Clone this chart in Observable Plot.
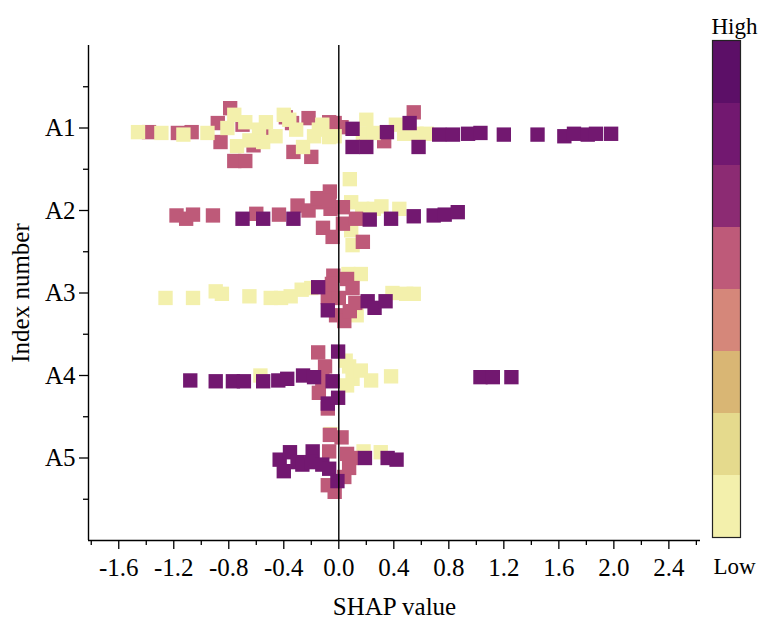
<!DOCTYPE html>
<html>
<head>
<meta charset="utf-8">
<script src="https://cdn.jsdelivr.net/npm/d3@7"></script>
<script src="https://cdn.jsdelivr.net/npm/@observablehq/plot@0.6"></script>
<style>
  body { margin: 0; background: #fff; }
  #wrap { position: relative; width: 760px; height: 621px; background: #fff; }
  #main { position: absolute; left: 0; top: 0; }
  #legend { position: absolute; left: 705px; top: 0; }
  svg { overflow: visible; }
</style>
</head>
<body>
<div id="wrap"><div id="main"></div><div id="legend"></div></div>
<script>
// ---- data ----
const categories = ["A1", "A2", "A3", "A4", "A5"];
const xTicks = [-1.6, -1.2, -0.8, -0.4, 0, 0.4, 0.8, 1.2, 1.6, 2.0, 2.4];
const xMinorTicks = [-1.8, -1.4, -1.0, -0.6, -0.2, 0.2, 0.6, 1.0, 1.4, 1.8, 2.2, 2.6];
const yMinorTicks = [0.5, 1.5, 2.5, 3.5, 4.5, 5.5];
const levels = [1, 2, 3, 4, 5, 6, 7, 8];           // feature value: 1 = Low ... 8 = High
const levelColors = ["#f3f0ac", "#e5da8d", "#d9b674", "#d5877a", "#be5a79", "#8c2b73", "#721870", "#5c0f67"];

// [SHAP value, vertical jitter (row units), feature-value level]
const a1Points = [
  [-1.38, 0.05, 5], [-1.17, 0.06, 5], [-1.07, 0.05, 5], [-0.88, -0.06, 5], [-0.86, 0.17, 5],
  [-0.79, -0.24, 5], [-0.76, 0.40, 5], [-0.68, 0.40, 5], [-0.70, -0.04, 5], [-0.62, 0.21, 5],
  [-0.55, 0.08, 5], [-0.385, -0.13, 5], [-0.34, -0.06, 5], [-0.33, 0.29, 5], [-0.22, -0.12, 5],
  [-0.20, 0.35, 5], [-0.07, -0.07, 5], [-0.03, -0.06, 5], [0.02, -0.01, 5], [0.33, 0.16, 5], [0.545, -0.19, 5],
  [-1.46, 0.05, 1], [-1.29, 0.06, 1], [-1.13, 0.08, 1], [-0.955, 0.06, 1], [-0.81, 0, 1],
  [-0.76, -0.16, 1], [-0.68, -0.07, 1], [-0.74, 0.22, 1], [-0.65, 0.15, 1], [-0.58, 0.02, 1],
  [-0.55, 0.17, 1], [-0.53, -0.07, 1], [-0.46, 0.10, 1], [-0.40, -0.16, 1], [-0.36, -0.10, 1],
  [-0.31, 0.02, 1], [-0.26, 0.23, 1], [-0.18, 0.10, 1], [-0.145, 0.02, 1], [-0.12, -0.04, 1],
  [-0.07, 0.11, 1], [-0.03, 0.10, 1], [0.20, -0.10, 1], [0.175, 0.07, 1], [0.255, 0.06, 1],
  [0.415, -0.04, 1], [0.475, 0.07, 1], [0.565, 0.07, 1], [0.64, 0.07, 1],
  [0.10, 0.01, 7], [0.10, 0.23, 7], [0.20, 0.23, 7], [0.35, 0.05, 7], [0.515, -0.06, 7],
  [0.58, 0.23, 7], [0.73, 0.08, 7], [0.83, 0.08, 7], [0.94, 0.07, 7], [1.03, 0.06, 7],
  [1.20, 0.08, 7], [1.445, 0.08, 7], [1.64, 0.10, 7], [1.71, 0.07, 7], [1.81, 0.08, 7],
  [1.87, 0.07, 7], [1.98, 0.07, 7]
];
const a2Points = [
  [0.08, -0.38, 1], [0.09, -0.10, 1], [0.17, -0.02, 1], [0.255, -0.02, 1], [0.31, -0.05, 1],
  [0.44, -0.02, 1], [0.09, 0.24, 1], [0.10, 0.42, 1],
  [-1.18, 0.06, 5], [-1.11, 0.10, 5], [-1.06, 0.05, 5], [-0.915, 0.06, 5], [-0.60, 0.04, 5],
  [-0.435, 0.05, 5], [-0.30, -0.06, 5], [-0.22, 0, 5], [-0.15, -0.10, 5], [-0.155, -0.15, 5],
  [-0.065, -0.23, 5], [-0.06, -0.02, 5], [-0.07, -0.12, 5], [-0.115, 0.21, 5], [-0.045, 0.32, 5],
  [0.03, -0.04, 5], [0.03, 0.16, 5], [0.125, 0.10, 5], [0.175, 0.38, 5],
  [-0.70, 0.10, 7], [-0.55, 0.10, 7], [-0.33, 0.10, 7], [0.225, 0.11, 7], [0.38, 0.10, 7],
  [0.545, 0.07, 7], [0.69, 0.06, 7], [0.77, 0.05, 7], [0.865, 0.02, 7]
];
const a3Points = [
  [-1.26, 0.06, 1], [-1.06, 0.06, 1], [-0.895, -0.02, 1], [-0.85, 0.01, 1], [-0.65, 0.04, 1],
  [-0.495, 0.06, 1], [-0.42, 0.06, 1], [-0.35, 0.04, 1], [-0.27, -0.04, 1], [-0.20, -0.06, 1],
  [0.07, -0.23, 1], [0.16, -0.23, 1], [0.13, 0.27, 1], [0.39, 0, 1], [0.49, 0.01, 1], [0.545, 0.01, 1],
  [-0.04, -0.21, 5], [0.06, -0.17, 5], [-0.08, 0.05, 5], [0.0, 0.06, 5], [0.10, -0.06, 5],
  [0.12, 0.12, 5], [-0.02, 0.27, 5], [0.04, 0.34, 5], [0.08, 0.22, 5], [-0.05, -0.11, 5],
  [-0.15, -0.07, 7], [-0.08, 0.21, 7], [0.21, 0.10, 7], [0.26, 0.18, 7], [0.34, 0.10, 7]
];
const a4Points = [
  [-0.57, 0, 1], [0.05, -0.18, 1], [0.075, -0.11, 1], [0.10, 0.04, 1], [0.16, -0.06, 1],
  [0.235, 0.06, 1], [0.38, 0.01, 1], [0.06, 0.12, 1],
  [-0.15, -0.28, 5], [-0.10, -0.11, 5], [-0.145, 0.21, 5], [-0.08, 0.40, 5], [-0.12, 0.05, 5],
  [-1.08, 0.06, 7], [-0.895, 0.07, 7], [-0.77, 0.07, 7], [-0.69, 0.07, 7], [-0.55, 0.07, 7],
  [-0.44, 0.06, 7], [-0.375, 0.04, 7], [-0.26, 0, 7], [-0.18, 0.02, 7], [-0.005, -0.29, 7],
  [-0.045, 0.07, 7], [-0.08, 0.34, 7], [-0.005, 0.27, 7], [1.03, 0.02, 7], [1.12, 0.02, 7], [1.255, 0.02, 7]
];
const a5Points = [
  [-0.06, -0.29, 1], [0.18, -0.08, 1], [0.305, -0.07, 1],
  [-0.065, -0.28, 5], [0.02, -0.25, 5], [-0.07, -0.08, 5], [0.06, -0.05, 5], [0.075, 0.12, 5],
  [0.09, 0, 5], [0.04, 0.23, 5], [-0.08, 0.33, 5], [-0.03, 0.41, 5],
  [-0.43, 0.02, 7], [-0.355, -0.07, 7], [-0.40, 0.16, 7], [-0.30, 0.05, 7], [-0.265, 0.08, 7],
  [-0.19, -0.08, 7], [-0.20, 0.05, 7], [-0.12, 0.08, 7], [-0.07, 0.13, 7], [-0.01, 0.28, 7],
  [0.19, 0, 7], [0.355, 0, 7], [0.42, 0.02, 7]
];

// ---- table for the library ----
const samples = [];
[a1Points, a2Points, a3Points, a4Points, a5Points].forEach((pts, i) => {
  pts.forEach(([shap, jitter, level]) => samples.push({feature: categories[i], row: i + 1, shap, jitter, level}));
});

const xDomain = [-1.82, 2.63];
const yDomain = [0, 6];
const font = "'Liberation Serif', 'Times New Roman', serif";
const colorScale = {type: "ordinal", domain: levels, range: levelColors};

const main = Plot.plot({
  width: 705, height: 621,
  marginLeft: 88, marginRight: 5, marginTop: 45, marginBottom: 81,
  style: {fontFamily: font, fontSize: "25px", color: "#000", background: "#fff", overflow: "visible"},
  x: {domain: xDomain, label: null},
  y: {domain: yDomain, reverse: true, label: null},
  color: colorScale,
  marks: [
    Plot.dot(samples, {x: "shap", y: d => d.row + d.jitter, fill: "level", symbol: "square", r: 8.1}),
    Plot.ruleX([0], {stroke: "#000", strokeWidth: 1.4}),
    Plot.ruleX([xDomain[0]], {stroke: "#000", strokeWidth: 1.4}),
    Plot.ruleY([yDomain[1]], {stroke: "#000", strokeWidth: 1.4}),
    Plot.axisX(xTicks, {tickFormat: d => d.toFixed(1), tickSize: 9, tickPadding: 9, strokeWidth: 1.3, label: null}),
    Plot.axisX(xMinorTicks, {tickFormat: () => "", tickSize: 5, strokeWidth: 1.3, label: null}),
    Plot.axisY([1, 2, 3, 4, 5], {tickFormat: d => categories[d - 1], tickSize: 9, tickPadding: 4, strokeWidth: 1.3, label: null}),
    Plot.axisY(yMinorTicks, {tickFormat: () => "", tickSize: 5, strokeWidth: 1.3, label: null}),
    Plot.text(["SHAP value"], {frameAnchor: "bottom", dy: 66, lineAnchor: "middle", fontSize: 25}),
    Plot.text(["Index number"], {frameAnchor: "left", dx: -68, rotate: -90, textAnchor: "middle", lineAnchor: "middle", fontSize: 25})
  ]
});
document.getElementById("main").appendChild(main);

const legend = Plot.plot({
  width: 55, height: 621,
  marginTop: 40, marginBottom: 84, marginLeft: 7, marginRight: 20,
  style: {fontFamily: font, fontSize: "23px", color: "#000", background: "transparent", overflow: "visible"},
  x: {axis: null},
  y: {type: "band", domain: levels.slice().reverse(), padding: 0, axis: null},
  color: colorScale,
  marks: [
    Plot.cell(levels, {y: d => d, fill: d => d}),
    Plot.frame({stroke: "#222", strokeWidth: 1.2}),
    Plot.text(["High"], {frameAnchor: "top", dx: 8, dy: -14, lineAnchor: "middle", fontSize: 23}),
    Plot.text(["Low"], {frameAnchor: "bottom", dx: 8, dy: 29, lineAnchor: "middle", fontSize: 23})
  ]
});
document.getElementById("legend").appendChild(legend);
</script>
</body>
</html>
